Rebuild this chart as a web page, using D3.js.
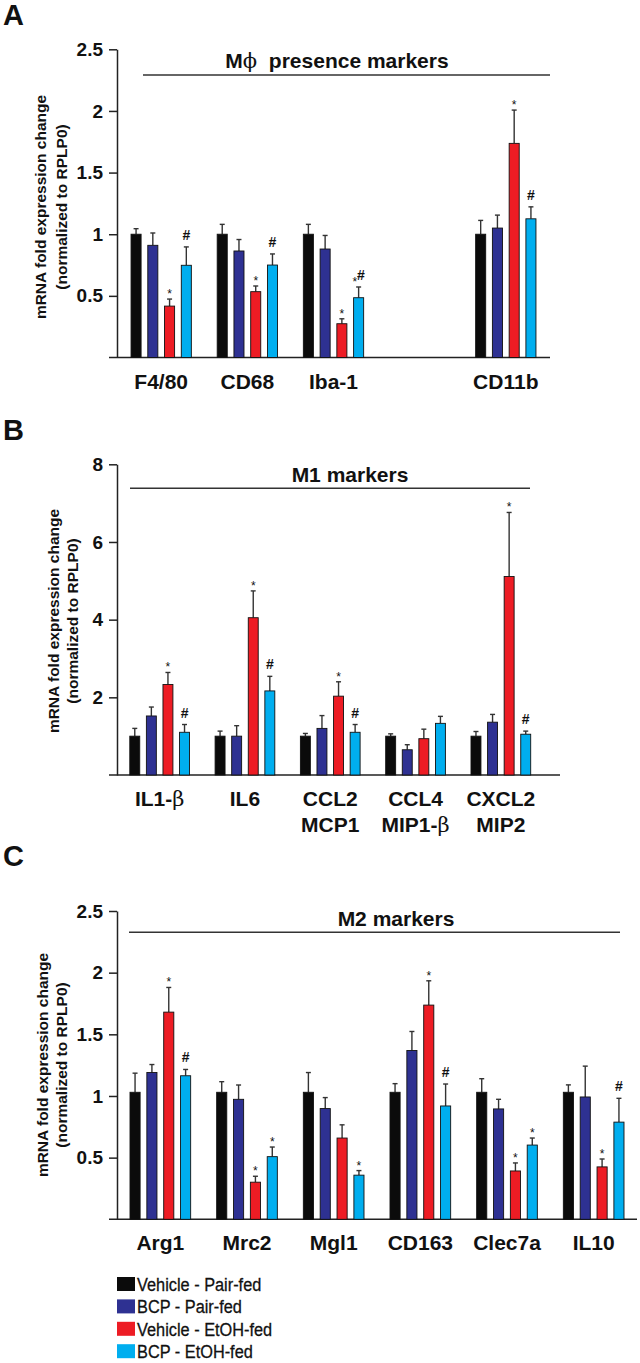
<!DOCTYPE html>
<html><head><meta charset="utf-8">
<script src="https://cdn.jsdelivr.net/npm/d3@7"></script>
<style>
body{margin:0;background:#fff}
svg{display:block}
text{font-family:"Liberation Sans",Arial,sans-serif;fill:#111}
</style>
</head><body>
<svg id="chart" width="640" height="1363"></svg>
<script>
// ---------- data ----------
const seriesNames = ["Vehicle - Pair-fed", "BCP - Pair-fed", "Vehicle - EtOH-fed", "BCP - EtOH-fed"];
const seriesColors = ["#0b0b0b", "#2e3192", "#ed1c24", "#00aeef"];

// Panel A: Mϕ presence markers
const catsA = ["F4/80", "CD68", "Iba-1", "CD11b"];
const vehPairA = [1.00, 1.00, 1.00, 1.00];
const bcpPairA = [0.91, 0.864, 0.88, 1.05];
const vehEtohA = [0.417, 0.534, 0.274, 1.737];
const bcpEtohA = [0.748, 0.75, 0.485, 1.125];
const errVehPairA = [0.045, 0.08, 0.08, 0.112];
const errBcpPairA = [0.10, 0.093, 0.11, 0.105];
const errVehEtohA = [0.057, 0.046, 0.04, 0.27];
const errBcpEtohA = [0.149, 0.09, 0.087, 0.097];
const noteVehEtohA = ["*", "*", "*", "*"];
const noteBcpEtohA = ["#", "#", "*#", "#"];
const ticksA = [0.5, 1, 1.5, 2, 2.5];

// Panel B: M1 markers
const catsB = ["IL1-β", "IL6", "CCL2\nMCP1", "CCL4\nMIP1-β", "CXCL2\nMIP2"];
const vehPairB = [1.0, 1.0, 1.0, 1.0, 1.0];
const bcpPairB = [1.52, 1.0, 1.2, 0.65, 1.36];
const vehEtohB = [2.33, 4.05, 2.03, 0.935, 5.11];
const bcpEtohB = [1.1, 2.165, 1.1, 1.33, 1.05];
const errVehPairB = [0.2, 0.13, 0.07, 0.06, 0.12];
const errBcpPairB = [0.23, 0.27, 0.33, 0.13, 0.2];
const errVehEtohB = [0.31, 0.69, 0.37, 0.245, 1.65];
const errBcpEtohB = [0.2, 0.375, 0.2, 0.18, 0.08];
const noteVehEtohB = ["*", "*", "*", "", "*"];
const noteBcpEtohB = ["#", "#", "#", "", "#"];
const ticksB = [2, 4, 6, 8];

// Panel C: M2 markers
const catsC = ["Arg1", "Mrc2", "Mgl1", "CD163", "Clec7a", "IL10"];
const vehPairC = [1.03, 1.03, 1.03, 1.03, 1.03, 1.03];
const bcpPairC = [1.19, 0.973, 0.898, 1.369, 0.895, 0.992];
const vehEtohC = [1.68, 0.301, 0.659, 1.737, 0.392, 0.425];
const bcpEtohC = [1.164, 0.508, 0.358, 0.919, 0.602, 0.788];
const errVehPairC = [0.155, 0.086, 0.16, 0.07, 0.11, 0.06];
const errBcpPairC = [0.065, 0.116, 0.089, 0.154, 0.078, 0.25];
const errVehEtohC = [0.2, 0.048, 0.107, 0.197, 0.065, 0.064];
const errBcpEtohC = [0.051, 0.078, 0.037, 0.178, 0.057, 0.193];
const noteVehEtohC = ["*", "*", "", "*", "*", "*"];
const noteBcpEtohC = ["#", "*", "*", "#", "*", "#"];
const ticksC = [0.5, 1, 1.5, 2, 2.5];

const yLabel1 = "mRNA fold expression change";
const yLabel2 = "(normalized to RPLP0)";

// ---------- layout ----------
const panels = [
  { letter: "A", letterY: 25, cats: catsA, gapBefore: 3,
    vals: [vehPairA, bcpPairA, vehEtohA, bcpEtohA],
    errs: [errVehPairA, errBcpPairA, errVehEtohA, errBcpEtohA],
    notes: [null, null, noteVehEtohA, noteBcpEtohA],
    yMax: 2.5, ticks: ticksA, top: 49.3, bottom: 357.5,
    band: [117, 550], po: 0.163, axisEnd: 550,
    title: "M\u03D5  presence markers", titleX: 337, titleY: 68, lineX: [143, 550], lineY: 75,
    ylab: [41, 62], ylabY: 207 },
  { letter: "B", letterY: 440, cats: catsB, gapBefore: -1,
    vals: [vehPairB, bcpPairB, vehEtohB, bcpEtohB],
    errs: [errVehPairB, errBcpPairB, errVehEtohB, errBcpEtohB],
    notes: [null, null, noteVehEtohB, noteBcpEtohB],
    yMax: 8, ticks: ticksB, top: 464.3, bottom: 775,
    band: [117, 543.5], po: 0.15, axisEnd: 560,
    title: "M1 markers", titleX: 350, titleY: 482, lineX: [130, 530], lineY: 488.3,
    ylab: [54, 73], ylabY: 621 },
  { letter: "C", letterY: 866, cats: catsC, gapBefore: -1,
    vals: [vehPairC, bcpPairC, vehEtohC, bcpEtohC],
    errs: [errVehPairC, errBcpPairC, errVehEtohC, errBcpEtohC],
    notes: [null, null, noteVehEtohC, noteBcpEtohC],
    yMax: 2.5, ticks: ticksC, top: 911, bottom: 1219.3,
    band: [117, 637], po: 0.15, axisEnd: 637,
    title: "M2 markers", titleX: 396, titleY: 926, lineX: [129, 620], lineY: 932.3,
    ylab: [43, 62], ylabY: 1065 }
];

const svg = d3.select("#chart");
const AXIS_X = 117;

function addRich(sel, str) {
  // split Greek letters into serif normal tspans
  const parts = str.match(/[\u0370-\u03FF]+|[^\u0370-\u03FF]+/g) || [];
  parts.forEach(p => {
    const t = sel.append("tspan").text(p);
    if (/[\u0370-\u03FF]/.test(p)) t.style("font-family", "'DejaVu Serif','Liberation Serif',serif").style("font-weight", "normal");
  });
}

panels.forEach(P => {
  const g = svg.append("g");
  const slots = P.cats.slice();
  if (P.gapBefore >= 0) slots.splice(P.gapBefore, 0, "__gap");
  const x = d3.scaleBand().domain(slots).range(P.band).paddingInner(0.3).paddingOuter(P.po);
  const xs = d3.scaleBand().domain(d3.range(seriesNames.length)).range([0, x.bandwidth()]).paddingInner(0.4);
  const y = d3.scaleLinear().domain([0, P.yMax]).range([P.bottom, P.top]);

  // panel letter
  g.append("text").attr("x", 3).attr("y", P.letterY).attr("font-size", 29).attr("font-weight", "bold").text(P.letter);

  // y axis
  const yAxis = d3.axisLeft(y).tickValues(P.ticks).tickSize(8).tickSizeOuter(0).tickPadding(6)
    .tickFormat(d3.format("~g"));
  const ga = g.append("g").attr("transform", `translate(${AXIS_X},0)`).call(yAxis);
  ga.select(".domain").attr("stroke", "#222").attr("stroke-width", 1.5);
  ga.selectAll(".tick line").attr("stroke", "#222").attr("stroke-width", 1.5);
  ga.selectAll(".tick text").attr("font-size", 19).attr("font-weight", "bold")
    .attr("font-family", "'Liberation Sans',Arial,sans-serif").attr("fill", "#111");

  // x axis baseline
  g.append("line").attr("x1", AXIS_X - 8).attr("x2", P.axisEnd).attr("y1", y(0)).attr("y2", y(0))
    .attr("stroke", "#222").attr("stroke-width", 1.5);

  // category labels
  P.cats.forEach(c => {
    const cx = x(c) + x.bandwidth() / 2;
    const t = g.append("text").attr("x", cx).attr("y", y(0) + 31).attr("text-anchor", "middle")
      .attr("font-size", 21).attr("font-weight", "bold");
    c.split("\n").forEach((line, i) => {
      const ts = t.append("tspan").attr("x", cx).attr("dy", i === 0 ? 0 : 26);
      addRich(ts, line);
    });
  });

  // bars
  P.vals.forEach((vals, si) => {
    P.cats.forEach((c, ci) => {
      const bx = x(c) + xs(si), bw = xs.bandwidth();
      const v = vals[ci], e = P.errs[si][ci];
      const cxb = bx + bw / 2;
      // error bar
      g.append("line").attr("x1", cxb).attr("x2", cxb).attr("y1", y(v)).attr("y2", y(v + e))
        .attr("stroke", "#333").attr("stroke-width", 1.4);
      g.append("line").attr("x1", cxb - 2.5).attr("x2", cxb + 2.5).attr("y1", y(v + e)).attr("y2", y(v + e))
        .attr("stroke", "#333").attr("stroke-width", 1.4);
      g.append("rect").attr("x", bx).attr("y", y(v)).attr("width", bw).attr("height", y(0) - y(v))
        .attr("fill", seriesColors[si]).attr("stroke", "#111").attr("stroke-width", 0.9);
      const n = P.notes[si] ? P.notes[si][ci] : "";
      if (n) {
        const top = y(v + e);
        const t = g.append("text").attr("x", cxb).attr("text-anchor", "middle").attr("fill", "#222");
        if (n === "*") {
          t.attr("y", top - 1).attr("font-size", 12).text("*");
        } else if (n === "#") {
          t.attr("y", top - 7).attr("font-size", 14).attr("font-weight", "bold").text("#");
        } else {
          t.attr("y", top - 7).attr("font-size", 14).attr("font-weight", "bold");
          t.append("tspan").attr("font-size", 12).attr("font-weight", "normal").attr("dy", 6).text("*");
          t.append("tspan").attr("dy", -6).text("#");
        }
      }
    });
  });

  // title + line
  const tt = g.append("text").attr("x", P.titleX).attr("y", P.titleY).attr("text-anchor", "middle")
    .attr("font-size", 21).attr("font-weight", "bold").style("white-space", "pre");
  addRich(tt, P.title);
  g.append("line").attr("x1", P.lineX[0]).attr("x2", P.lineX[1]).attr("y1", P.lineY).attr("y2", P.lineY)
    .attr("stroke", "#333").attr("stroke-width", 1.6);

  // y label
  [yLabel1, yLabel2].forEach((s, i) => {
    g.append("text").attr("transform", `translate(${P.ylab[i]},${P.ylabY}) rotate(-90)`)
      .attr("text-anchor", "middle").attr("dy", "0.35em")
      .attr("font-size", 15.5).attr("font-weight", "bold").text(s);
  });
});

// legend
const legend = svg.append("g").attr("transform", "translate(117,1277)");
seriesNames.forEach((s, i) => {
  const row = legend.append("g").attr("transform", `translate(0,${i * 22.4})`);
  row.append("rect").attr("width", 18).attr("height", 14).attr("fill", seriesColors[i]);
  row.append("text").attr("transform", "translate(20,14) scale(0.86,1)")
    .attr("font-size", 19).attr("stroke", "#111").attr("stroke-width", 0.3).text(s);
});
</script>
</body></html>
